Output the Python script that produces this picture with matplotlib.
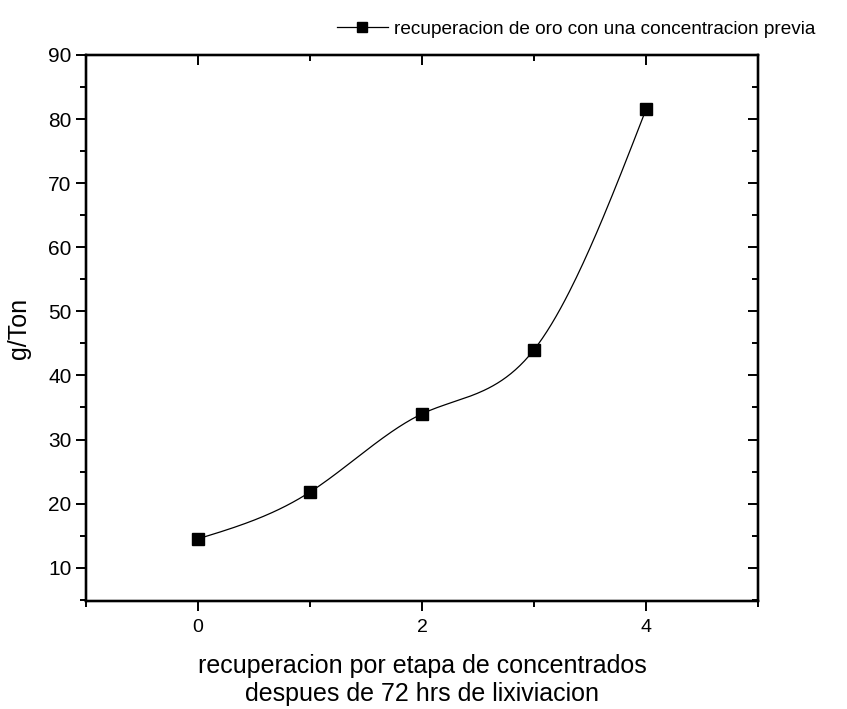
import matplotlib
matplotlib.use('Agg')
import matplotlib.pyplot as plt
import numpy as np
from matplotlib.ticker import MultipleLocator

plt.rcParams['font.family'] = ['Liberation Sans', 'DejaVu Sans']

# data
etapa = [0, 1, 2, 3, 4]
g_ton = [14.5, 21.8, 34.0, 44.0, 81.5]
serie = 'recuperacion de oro con una concentracion previa'


def natural_spline(x, y, n=200):
    # natural cubic spline through the points (smooth connecting line like Origin)
    x = np.asarray(x, float)
    y = np.asarray(y, float)
    m = len(x)
    h = np.diff(x)
    A = np.zeros((m, m))
    b = np.zeros(m)
    A[0, 0] = A[-1, -1] = 1
    for i in range(1, m - 1):
        A[i, i - 1] = h[i - 1]
        A[i, i] = 2 * (h[i - 1] + h[i])
        A[i, i + 1] = h[i]
        b[i] = 6 * ((y[i + 1] - y[i]) / h[i] - (y[i] - y[i - 1]) / h[i - 1])
    M = np.linalg.solve(A, b)
    xs = np.linspace(x[0], x[-1], n)
    idx = np.clip(np.searchsorted(x, xs) - 1, 0, m - 2)
    x0, x1 = x[idx], x[idx + 1]
    hh = x1 - x0
    ys = (M[idx] * (x1 - xs) ** 3 / (6 * hh) + M[idx + 1] * (xs - x0) ** 3 / (6 * hh)
          + (y[idx] / hh - M[idx] * hh / 6) * (x1 - xs)
          + (y[idx + 1] / hh - M[idx + 1] * hh / 6) * (xs - x0))
    return xs, ys


fig = plt.figure(figsize=(8.47, 7.09), dpi=100)
rect = [86 / 847, 1 - 601 / 709, 672 / 847, 546 / 709]
ax = fig.add_axes(rect)

xs, ys = natural_spline(etapa, g_ton)
ax.plot(xs, ys, color='black', lw=0.9)
pts, = ax.plot(etapa, g_ton, ls='none', marker='s', ms=8.5, color='black')

handle, = ax.plot([], [], color='black', lw=0.9, marker='s', ms=7.5)
ax.legend([handle], [serie], loc='lower right', bbox_to_anchor=(1.085, 1.032),
          frameon=False, fontsize=13.7, handlelength=2.7, handletextpad=0.3,
          borderaxespad=0, borderpad=0)

ax.set_xlim(-1, 5)
ax.set_ylim(4.8, 90)
ax.xaxis.set_major_locator(MultipleLocator(2))
ax.xaxis.set_minor_locator(MultipleLocator(1))
ax.yaxis.set_minor_locator(MultipleLocator(5))
ax.set_yticks(np.arange(10, 91, 10))

for s in ax.spines.values():
    s.set_linewidth(1.6)

ax.tick_params(which='both', direction='out', width=1.4, labelsize=15)
ax.tick_params(axis='x', labelsize=14, pad=6)
ax.tick_params(which='major', length=7)
ax.tick_params(which='minor', length=4)

# top and right ticks point inward, origin style
top = ax.twiny()
right = ax.twinx()
top.set_xlim(ax.get_xlim())
right.set_ylim(ax.get_ylim())
top.xaxis.set_major_locator(MultipleLocator(2))
top.xaxis.set_minor_locator(MultipleLocator(1))
right.set_yticks(np.arange(10, 91, 10))
right.yaxis.set_minor_locator(MultipleLocator(5))
for a in (top, right):
    a.tick_params(which='both', direction='in', width=1.4, labeltop=False, labelright=False)
    a.tick_params(which='major', length=7)
    a.tick_params(which='minor', length=4)
    for s in a.spines.values():
        s.set_linewidth(1.6)

ax.set_xlabel('recuperacion por etapa de concentrados\ndespues de 72 hrs de lixiviacion',
              fontsize=18, labelpad=13, linespacing=1.2)
ax.set_ylabel('g/Ton', fontsize=18, labelpad=12)

fig.savefig('out.png', dpi=100)
